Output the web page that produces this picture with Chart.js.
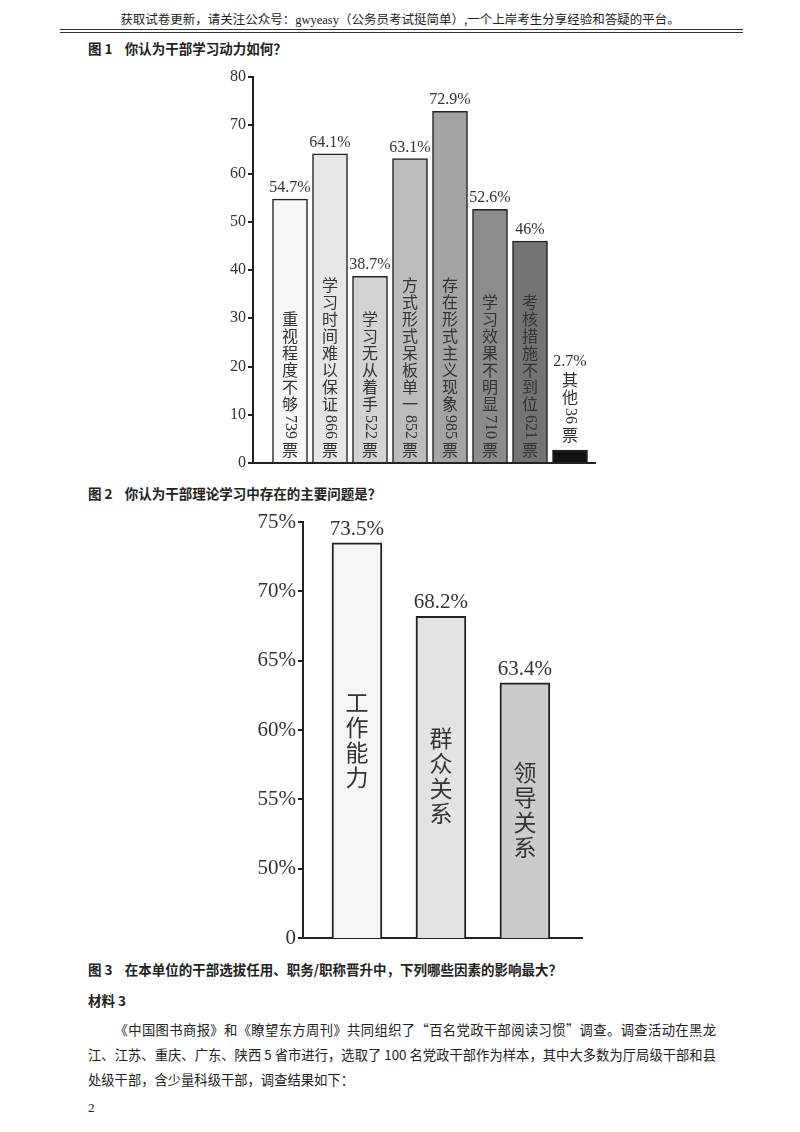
<!DOCTYPE html>
<html><head><meta charset="utf-8">
<script src="https://cdn.jsdelivr.net/npm/chart.js@4"></script>
<style>
body{margin:0;background:#fff;width:800px;height:1132px;position:relative;font-family:"Noto Sans CJK SC",sans-serif;color:#222;overflow:hidden}
.abs{position:absolute}
.hdr{left:0;width:800px;top:9px;text-align:center;font-size:12.5px}
.l1{left:60px;width:683px;top:29px;border-top:1.5px solid #333}
.l2{left:60px;width:683px;top:32px;border-top:1px solid #333}
.ttl{left:88px;font-size:13.5px;font-weight:bold}
.p{left:88px;width:628px;font-size:13.3px;line-height:25px;text-align:justify}
</style></head><body>
<div class="abs hdr">获取试卷更新，请关注公众号：<span style="font-family:'Liberation Serif'">gwyeasy</span>（公务员考试挺简单）,一个上岸考生分享经验和答疑的平台。</div>
<div class="abs l1"></div><div class="abs l2"></div>
<div class="abs ttl" style="top:38px">图 1&nbsp;&nbsp;&nbsp;&nbsp;你认为干部学习动力如何？</div>
<div class="abs ttl" style="top:483px">图 2&nbsp;&nbsp;&nbsp;&nbsp;你认为干部理论学习中存在的主要问题是？</div>
<div class="abs ttl" style="top:959px">图 3&nbsp;&nbsp;&nbsp;&nbsp;在本单位的干部选拔任用、职务/职称晋升中，下列哪些因素的影响最大？</div>
<div class="abs ttl" style="top:990px">材料 3</div>
<div class="abs p" style="top:1017px;text-indent:2em">《中国图书商报》和《瞭望东方周刊》共同组织了“百名党政干部阅读习惯”调查。调查活动在黑龙江、江苏、重庆、广东、陕西 5 省市进行，选取了 100 名党政干部作为样本，其中大多数为厅局级干部和县处级干部，含少量科级干部，调查结果如下：</div>
<div class="abs" style="left:88px;top:1100px;font-size:13px;font-family:'Liberation Serif'">2</div>
<div class="abs" style="left:200px;top:60px;width:410px;height:420px"><canvas id="c1"></canvas></div>
<div class="abs" style="left:230px;top:505px;width:370px;height:450px"><canvas id="c2"></canvas></div>
<script>
const cats1=["重视程度不够739票","学习时间难以保证866票","学习无从着手522票","方式形式呆板单一852票","存在形式主义现象985票","学习效果不明显710票","考核措施不到位621票","其他36票"];
const vals1=[54.7,64.1,38.7,63.1,72.9,52.6,46,2.7];
const valLabels1=["54.7%","64.1%","38.7%","63.1%","72.9%","52.6%","46%","2.7%"];
const ticks1=[0,10,20,30,40,50,60,70,80];
const cats2=["工作能力","群众关系","领导关系"];
const vals2=[73.5,68.2,63.4];
const valLabels2=["73.5%","68.2%","63.4%"];
const ticks2=["0","50%","55%","60%","65%","70%","75%"];
const colors1=["#f6f6f6","#e6e6e6","#d3d3d3","#bcbcbc","#a4a4a4","#8c8c8c","#747474","#111"];
const colors2=["#f5f5f5","#e3e3e3","#cbcbcb"];

function tokens(s){const r=[];const re=/(\d+)|(.)/g;let m;while((m=re.exec(s))){r.push(m[1]?{d:m[1]}:{c:m[2]});}return r;}
function vtext(ctx,s,x,top,step,font,numFont){
  let y=top;
  for(const t of tokens(s)){
    if(t.c){ctx.font=font;ctx.textAlign='center';ctx.textBaseline='top';ctx.fillText(t.c,x,y);y+=step;}
    else{ctx.font=numFont;const w=ctx.measureText(t.d).width;ctx.save();ctx.translate(x,y+2);ctx.rotate(Math.PI/2);ctx.textAlign='left';ctx.textBaseline='middle';ctx.fillText(t.d,0,0);ctx.restore();y+=w+5;}
  }
  return y-top;
}
function vheight(ctx,s,step,numFont){let h=0;for(const t of tokens(s)){if(t.c)h+=step;else{ctx.font=numFont;h+=ctx.measureText(t.d).width+5;}}return h;}

function mkPlugin(cats,labels,mode,step,font,numFont,vfont){
 return {id:'lbl',afterDatasetsDraw(ch){
  const ctx=ch.ctx;ctx.save();
  const base=ch.scales.y.bottom;
  ch.getDatasetMeta(0).data.forEach((b,i)=>{
    ctx.fillStyle='#333';
    const s=cats[i];const h=vheight(ctx,s,step,numFont);
    let labY=b.y-3;
    if(mode==='bottom'){
      if(base-b.y<h+20){const top=b.y-6-h;vtext(ctx,s,b.x,top,step,font,numFont);labY=top-2;}
      else vtext(ctx,s,b.x,base-4-h,step,font,numFont);
    }else{vtext(ctx,s,b.x,(b.y+base)/2-h/2,step,font,numFont);}
    ctx.font=vfont;ctx.textAlign='center';ctx.textBaseline='bottom';ctx.fillText(labels[i],b.x,labY);
  });ctx.restore();}};
}
function common(min,max,step,cb,xmin,xmax,yw,pad){
 return {responsive:true,maintainAspectRatio:false,animation:false,
  layout:{padding:{top:pad.top,right:pad.right,bottom:0,left:0}},
  plugins:{legend:{display:false},tooltip:{enabled:false}},
  scales:{
   x:{type:'linear',offset:false,min:xmin,max:xmax,ticks:{display:false},grid:{display:false},border:{color:'#222',width:2},afterFit(s){s.height=pad.b;}},
   y:{min:min,max:max,afterBuildTicks(s){s.ticks=[];for(let v=min;v<=max;v+=step)s.ticks.push({value:v});},
      ticks:{callback:cb,color:'#333',padding:2,font:{family:'Liberation Serif',size:pad.fs}},
      grid:{drawOnChartArea:false,tickLength:5,color:'#222',lineWidth:2},border:{color:'#222',width:2},
      afterFit(s){s.width=yw;}}
  }};
}
const o1=common(0,80,10,v=>String(v),-0.925,7.625,53,{top:17,right:15,b:17,fs:16});
new Chart(document.getElementById('c1'),{type:'bar',
 data:{datasets:[{data:vals1.map((v,i)=>({x:i,y:v})),backgroundColor:colors1,borderColor:'#222',borderWidth:1.5,barThickness:35,borderSkipped:'bottom'}]},
 options:o1,plugins:[mkPlugin(cats1,valLabels1,'bottom',17,'16px "Noto Sans CJK SC"','16px "Liberation Serif"','16px "Liberation Serif"')]});
const o2=common(45,75,5,v=>ticks2[Math.round((v-45)/5)],-0.643,2.68,73,{top:17,right:18,b:17,fs:21});
new Chart(document.getElementById('c2'),{type:'bar',
 data:{datasets:[{data:vals2.map((v,i)=>({x:i,y:v})),backgroundColor:colors2,borderColor:'#222',borderWidth:2,barThickness:50,borderSkipped:'bottom'}]},
 options:o2,plugins:[mkPlugin(cats2,valLabels2,'center',25,'23px "Noto Sans CJK SC"','23px "Liberation Serif"','21px "Liberation Serif"')]});
</script></body></html>
